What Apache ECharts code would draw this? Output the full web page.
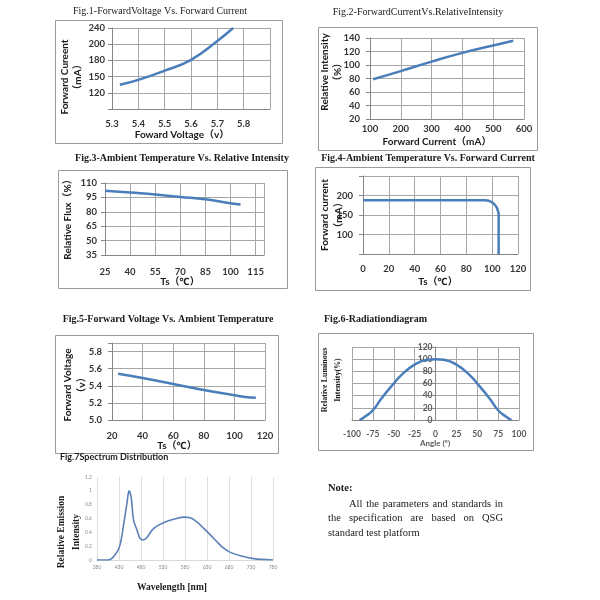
<!DOCTYPE html>
<html><head><meta charset="utf-8">
<script src="https://cdn.jsdelivr.net/npm/echarts@6/dist/echarts.min.js"></script>
<style>html,body{margin:0;padding:0;background:#fff}#c{width:600px;height:600px}</style>
</head><body><div id="c"></div>
<script>
// ---------- data ----------
// Fig.1 Forward Voltage vs Forward Current
const fig1Voltage = [5.33, 5.40, 5.50, 5.60, 5.70, 5.76];
const fig1Current = [135, 144, 161, 181, 216, 240];
const fig1YTickValues = [90, 120, 150, 180, 210, 240];
const fig1YTickLabels = ['', '120', '150', '180', '200', '240'];
// Fig.2 Forward Current vs Relative Intensity
const fig2Current = [110, 200, 300, 400, 500, 565];
const fig2Intensity = [79, 91, 105, 118, 129, 136];
// Fig.3 Ambient Temperature vs Relative Flux
const fig3Temp = [25, 40, 55, 70, 85, 100, 106];
const fig3Flux = [102, 100, 98, 95.5, 93, 89, 87.5];
// Fig.4 Ambient Temperature vs Forward Current
const fig4Temp = [0, 95, 98, 101, 103.5, 105, 105];
const fig4Current = [188, 188, 186, 180, 170, 155, 50];
const fig4YShown = [100, 150, 200];
// Fig.5 Forward Voltage vs Ambient Temperature
const fig5Temp = [24, 40, 60, 80, 100, 107, 114];
const fig5Voltage = [5.54, 5.49, 5.42, 5.35, 5.29, 5.27, 5.26];
// Fig.6 Radiation diagram
const fig6Angle = [-91, -85, -75, -65, -50, -40, -25, -10, 0, 10, 25, 40, 50, 65, 75, 85, 91];
const fig6Intensity = [0, 5, 16, 35, 60, 75, 91, 99, 100, 99, 91, 75, 60, 35, 16, 5, 0];
// Fig.7 Spectrum distribution
const fig7Wavelength = [380, 406, 418, 431, 441, 448, 453, 458, 463, 471, 478, 486, 494, 505, 516, 531, 554, 577, 592, 607, 622, 638, 653, 668, 683, 706, 736, 780];
const fig7Emission = [0, 0, 0.05, 0.19, 0.53, 0.82, 1.0, 0.89, 0.58, 0.43, 0.31, 0.29, 0.33, 0.43, 0.49, 0.54, 0.59, 0.62, 0.61, 0.55, 0.46, 0.36, 0.26, 0.17, 0.11, 0.06, 0.02, 0];
// texts
const titles = [
  'Fig.1-ForwardVoltage Vs. Forward Current',
  'Fig.2-ForwardCurrentVs.RelativeIntensity',
  'Fig.3-Ambient Temperature Vs. Relative Intensity',
  'Fig.4-Ambient Temperature Vs. Forward Current',
  'Fig.5-Forward Voltage Vs. Ambient Temperature',
  'Fig.6-Radiationdiagram',
  'Fig.7Spectrum Distribution'
];
const noteTitle = 'Note:';
const noteLines = ['All the parameters and standards in', 'the specification are based on QSG', 'standard test platform'];

// ---------- style ----------
const LINE = '#4a7ebb';
const SANS = 'Lato, "Noto Sans", "Noto Sans CJK SC", sans-serif';
const SERIF = '"Liberation Serif", "DejaVu Serif", "Noto Sans CJK SC", serif';
const GRIDC = '#a6a6a6', AXISC = '#868686', FRAMEC = '#9a9a9a';
const zip = (a, b) => a.map((v, i) => [v, b[i]]);

function lbl(extra) {
  return Object.assign({fontFamily: SANS, fontWeight: 'bold', fontSize: 9.5, color: '#333'}, extra);
}
function xA(grid, min, max, interval, labelExtra, more) {
  return Object.assign({
    gridIndex: grid, type: 'value', min, max, interval,
    axisLine: {show: true, onZero: false, lineStyle: {color: AXISC}},
    axisTick: {show: false},
    splitLine: {show: true, lineStyle: {color: GRIDC, width: 1}},
    axisLabel: lbl(labelExtra)
  }, more || {});
}
function yA(grid, min, max, interval, labelExtra, more) {
  return Object.assign({
    gridIndex: grid, type: 'value', min, max, interval,
    axisLine: {show: true, onZero: false, lineStyle: {color: AXISC}},
    axisTick: {show: true, length: 4, lineStyle: {color: AXISC}},
    splitLine: {show: true, lineStyle: {color: GRIDC, width: 1}},
    axisLabel: lbl(labelExtra)
  }, more || {});
}
function line(idx, data, extra) {
  return Object.assign({
    type: 'line', xAxisIndex: idx, yAxisIndex: idx, data,
    showSymbol: false, smooth: true, silent: true, animation: false,
    lineStyle: {color: LINE, width: 2.5}, itemStyle: {color: LINE}
  }, extra || {});
}
function ttl(text, left, top, bold, family, size) {
  return {text, left, top, textAlign: bold === 'left' ? 'left' : 'center', padding: 0,
    textStyle: {fontFamily: family || SERIF, fontWeight: bold && bold !== 'normal' ? 'bold' : 'normal', fontSize: size || 10, color: '#1a1a1a'}};
}
function nameText(text, x, y, rotate, font) {
  return {type: 'text', x, y, rotation: rotate ? Math.PI / 2 : 0, silent: true,
    style: Object.assign({text, fill: '#1a1a1a', align: 'center', verticalAlign: 'middle',
      textAlign: 'center', textVerticalAlign: 'middle', fontFamily: SANS, fontWeight: 'bold', fontSize: 10}, font || {})};
}
function frame(x1, y1, x2, y2) {
  return {type: 'rect', silent: true, shape: {x: x1 + 0.5, y: y1 + 0.5, width: x2 - x1, height: y2 - y1},
    style: {fill: 'none', stroke: FRAMEC, lineWidth: 1}};
}

// ---------- note (justified) ----------
const meas = document.createElement('canvas').getContext('2d');
const NOTE_FONT_SIZE = 10.5;
meas.font = NOTE_FONT_SIZE + 'px "Liberation Serif"';
const noteGraphics = [];
noteGraphics.push({type: 'text', x: 328, y: 488, silent: true,
  style: {text: noteTitle, fontFamily: SERIF, fontWeight: 'bold', fontSize: 10.5, fill: '#1a1a1a', verticalAlign: 'middle', textVerticalAlign: 'middle'}});
noteLines.forEach((ln, i) => {
  const words = ln.split(' ');
  const x0 = i === 0 ? 349 : 328, x1 = 503, y = 504 + 14.6 * i;
  const justify = i < noteLines.length - 1;
  const widths = words.map(w => meas.measureText(w).width);
  const total = widths.reduce((a, b) => a + b, 0);
  const gap = justify ? (x1 - x0 - total) / (words.length - 1) : meas.measureText(' ').width;
  let x = x0;
  words.forEach((w, k) => {
    noteGraphics.push({type: 'text', x, y, silent: true,
      style: {text: w, fontFamily: SERIF, fontSize: NOTE_FONT_SIZE, fill: '#1a1a1a', verticalAlign: 'middle', textVerticalAlign: 'middle'}});
    x += widths[k] + gap;
  });
});

// Fig.6 grid geometry (y axis drawn at angle 0, i.e. grid centre)
const G6 = {left: 352, top: 347, width: 167, height: 73};

const chart = echarts.init(document.getElementById('c'), null, {renderer: 'canvas'});
const option = {
  animation: false,
  backgroundColor: '#fff',
  title: [
    ttl(titles[0], 160, 6, 'normal'),
    ttl(titles[1], 418, 7, 'normal'),
    ttl(titles[2], 182, 153, true),
    ttl(titles[3], 428, 153, true),
    ttl(titles[4], 168, 314, true),
    ttl(titles[5], 324, 314, 'left'),
    ttl(titles[6], 60, 453, 'left', SANS, 9)
  ],
  grid: [
    {left: 112, top: 28, width: 158, height: 81},
    {left: 370, top: 38, width: 154, height: 81},
    {left: 105, top: 183, width: 159, height: 72},
    {left: 363, top: 176, width: 155, height: 78},
    {left: 112, top: 343, width: 153, height: 77},
    G6,
    {left: 97, top: 477, width: 176, height: 83}
  ],
  xAxis: [
    xA(0, 5.3, 5.9, 0.1, {margin: 10, formatter: v => v > 5.85 ? '' : v.toFixed(1)}),
    xA(1, 100, 600, 100, {margin: 5}),
    xA(2, 25, 120, 15, {margin: 12, formatter: v => v > 117 ? '' : String(v)}),
    xA(3, 0, 120, 20, {margin: 10}),
    xA(4, 20, 120, 20, {margin: 11}),
    xA(5, -100, 100, 25, {margin: 10, color: '#595959', fontSize: 8.5}),
    xA(6, 380, 780, 50, {margin: 5, fontSize: 5, color: '#8c8c8c', fontWeight: 'normal'},
      {axisLine: {show: true, onZero: false, lineStyle: {color: '#d9d9d9'}}, splitLine: {show: true, lineStyle: {color: '#dedede'}}})
  ],
  yAxis: [
    yA(0, 90, 240, 30, {margin: 7, formatter: v => fig1YTickLabels[fig1YTickValues.indexOf(v)] || ''}),
    yA(1, 20, 140, 20, {margin: 10}),
    yA(2, 35, 110, 15, {margin: 8}),
    yA(3, 50, 250, 50, {margin: 10, formatter: v => fig4YShown.indexOf(v) >= 0 ? String(v) : ''}),
    yA(4, 5.0, 5.9, 0.2, {margin: 10, formatter: v => v > 5.85 ? '' : v.toFixed(1)}),
    yA(5, 0, 120, 20, {margin: 3, color: '#595959', fontSize: 8.5},
      {offset: -G6.width / 2, axisTick: {show: true, length: 3, lineStyle: {color: AXISC}}}),
    yA(6, 0, 1.2, 0.2, {margin: 5, fontSize: 5, color: '#8c8c8c', fontWeight: 'normal'},
      {axisLine: {show: false}, axisTick: {show: false}, splitLine: {show: false}})
  ],
  series: [
    line(0, zip(fig1Voltage, fig1Current)),
    line(1, zip(fig2Current, fig2Intensity)),
    line(2, zip(fig3Temp, fig3Flux)),
    line(3, zip(fig4Temp, fig4Current), {smooth: false}),
    line(4, zip(fig5Temp, fig5Voltage)),
    line(5, zip(fig6Angle, fig6Intensity)),
    line(6, zip(fig7Wavelength, fig7Emission), {smooth: 0.35, lineStyle: {color: '#5b80b8', width: 1.6}})
  ],
  graphic: [
    frame(55, 20, 282, 143),
    frame(318, 27, 537, 150),
    frame(58, 170, 287, 288),
    frame(315, 167, 530, 290),
    frame(55, 335, 278, 453),
    frame(318, 333, 533, 450),
    nameText('Forward Cureent\n（mA）', 71.5, 77, true, {lineHeight: 13}),
    nameText('Foward Voltage（v）', 182, 135, false),
    nameText('Relative Intensity\n（%）', 331.5, 72, true, {lineHeight: 13}),
    nameText('Forward Current（mA）', 437, 142, false),
    nameText('Relative Flux（%）', 68, 217, true),
    nameText('Ts（℃）', 180, 282, false),
    nameText('Forward current\n（mA）', 331.5, 215, true, {lineHeight: 14}),
    nameText('Ts（℃）', 438, 282, false),
    nameText('Forward Voltage\n（v）', 75, 385, true, {lineHeight: 14}),
    nameText('Ts（℃）', 177, 446, false),
    nameText('Relative Luminous\nIntensity(%)', 331.5, 380, true, {fontFamily: SERIF, fontSize: 8, lineHeight: 13}),
    nameText('Angle (°)', 435, 443, false, {fontSize: 8, fill: '#595959'}),
    nameText('Relative Emission\nIntensity', 69, 532, true, {fontFamily: SERIF, fontSize: 9.5, lineHeight: 15}),
    nameText('Wavelength [nm]', 172, 588, false, {fontFamily: SERIF, fontSize: 9.5})
  ].concat(noteGraphics)
};
chart.setOption(option);
</script>
</body></html>
